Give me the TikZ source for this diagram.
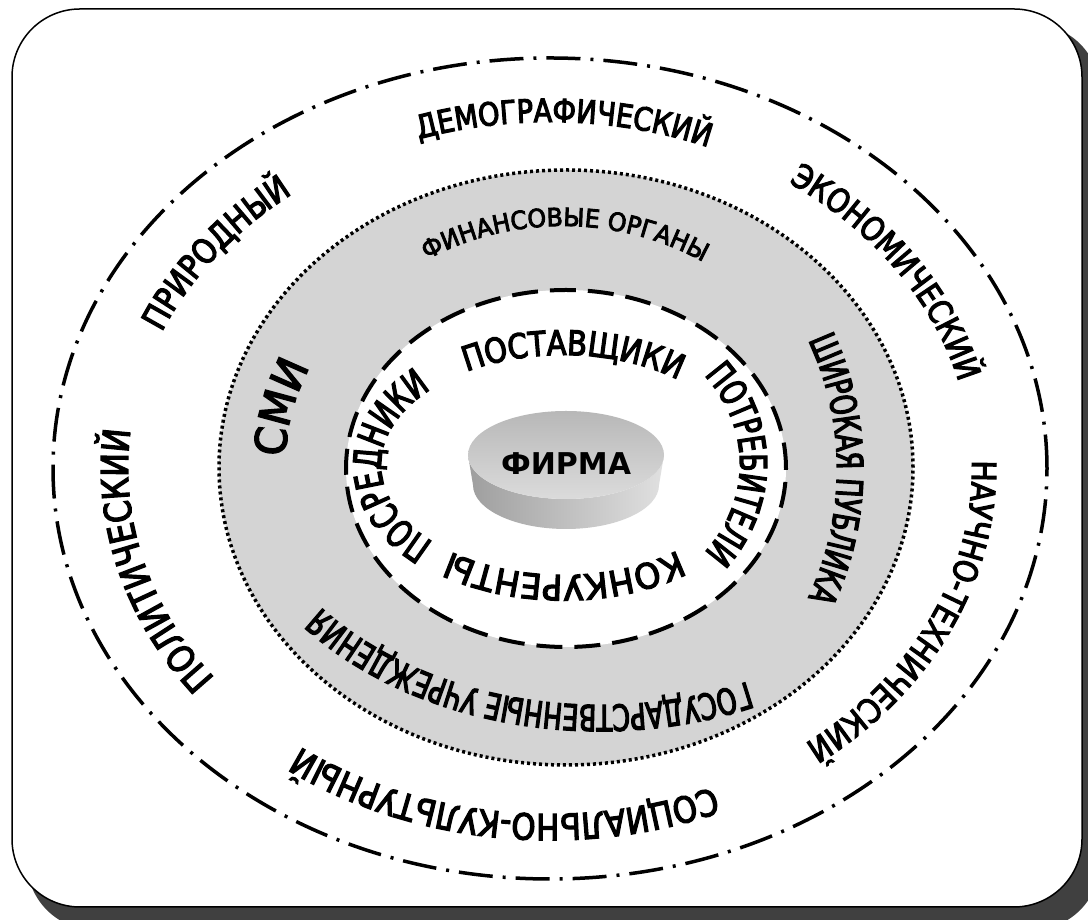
\documentclass[tikz,border=0pt]{standalone}
\usepackage{fontspec}
\setmainfont{DejaVu Sans}
\newfontfamily\fsN[FakeStretch=0.85,FakeBold=3.5]{DejaVu Sans}
\newfontfamily\fsW[FakeStretch=0.95,FakeBold=3.5]{DejaVu Sans}
\newfontfamily\fsC[FakeStretch=0.7,FakeBold=3.5]{DejaVu Sans}
\usetikzlibrary{decorations.text,calc}
\definecolor{ringgray}{RGB}{212,212,212}
\newcommand{\arctext}[8]{%
  \path[decorate,decoration={text along path,text align=center,text={|#7|#8}}]
    ($(#1,#2)+({#5+#6}:#3 and #4)$) arc[start angle={#5+#6},end angle={#5-#6},x radius=#3,y radius=#4];}
\tikzset{
  outerring/.style={line width=3.5pt,dash pattern=on 34pt off 10pt on 3pt off 10pt},
  grayring/.style={fill=ringgray,draw=black,line width=3.5pt,dash pattern=on 3pt off 3pt},
  innerring/.style={fill=white,draw=black,line width=4pt,dash pattern=on 26pt off 12pt},
  firmtext/.style={font=\bfseries\fontsize{30}{30}\selectfont}
}
\begin{document}
\begin{tikzpicture}[x=1pt,y=1pt]
\useasboundingbox (0,0) rectangle (1088,920);
\clip (0,0) rectangle (1088,920);
% frame and shadow
\fill[black!75,rounded corners=68pt] (27,-10) rectangle (1100,896);
\draw[line width=1.5pt,fill=white,rounded corners=68pt] (12,13) rectangle (1082,911);
% rings
\coordinate (co) at (550,451.5);
\coordinate (cg) at (566,452.5);
\coordinate (ci) at (566,451.5);
\draw[outerring] (co) ellipse [x radius=497, y radius=410.5];
\draw[grayring] (cg) ellipse [x radius=347, y radius=297.5];
\draw[innerring] (ci) ellipse [x radius=220, y radius=178.5];
% cylinder
\coordinate (cyt) at (566,465);
\shade[left color=black!38,right color=black!12]
  (468,465) -- (473,435) arc[start angle=180,end angle=360,x radius=93,y radius=44]
  -- (664,465) arc[start angle=0,end angle=-180,x radius=98,y radius=44] -- cycle;
\shade[top color=black!28,bottom color=black!14] (cyt) ellipse [x radius=98, y radius=44];
\node[firmtext] (firm) at (566,456) {ФИРМА};
% outer texts
\arctext{550}{452}{422}{346}{143}{26}{\fsN\fontsize{34}{34}\selectfont}{ПРИРОДНЫЙ}
\arctext{550}{452}{422}{346}{88}{31}{\fsN\fontsize{32}{32}\selectfont}{ДЕМОГРАФИЧЕСКИЙ}
\arctext{550}{452}{422}{346}{34}{33}{\fsN\fontsize{33}{33}\selectfont}{ЭКОНОМИЧЕСКИЙ}
\arctext{550}{452}{422}{346}{-25}{38}{\fsN\fontsize{33}{33}\selectfont}{НАУЧНО-ТЕХНИЧЕСКИЙ}
\arctext{550}{452}{422}{346}{-97}{41}{\fsN\fontsize{36}{36}\selectfont}{СОЦИАЛЬНО-КУЛЬТУРНЫЙ}
\arctext{550}{452}{422}{346}{195}{34}{\fsN\fontsize{37}{37}\selectfont}{ПОЛИТИЧЕСКИЙ}
% gray ring texts
\arctext{563}{454}{266}{240}{89.5}{42}{\fsW\fontsize{25}{25}\selectfont}{ФИНАНСОВЫЕ ОРГАНЫ}
\arctext{563}{454}{278}{240}{167}{25}{\fsW\fontsize{43}{43}\selectfont}{СМИ}
\arctext{563}{451}{274}{288}{0}{39}{\fsC\fontsize{36}{36}\selectfont}{ШИРОКАЯ ПУБЛИКА}
\arctext{600}{480}{360}{265}{-104}{47}{\fsC\fontsize{36}{36}\selectfont}{ГОСУДАРСТВЕННЫЕ УЧРЕЖДЕНИЯ}
% inner texts
\arctext{563}{455}{182}{110}{86}{48}{\fsN\fontsize{34}{34}\selectfont}{ПОСТАВЩИКИ}
\arctext{563}{455}{182}{110}{-89.5}{50}{\fsW\fontsize{35}{35}\selectfont}{КОНКУРЕНТЫ}
\arctext{563}{455}{182}{110}{180.5}{54}{\fsC\fontsize{38}{38}\selectfont}{ПОСРЕДНИКИ}
\arctext{566}{456}{174}{146}{0}{47}{\fsC\fontsize{37}{37}\selectfont}{ПОТРЕБИТЕЛИ}
\end{tikzpicture}
\end{document}
